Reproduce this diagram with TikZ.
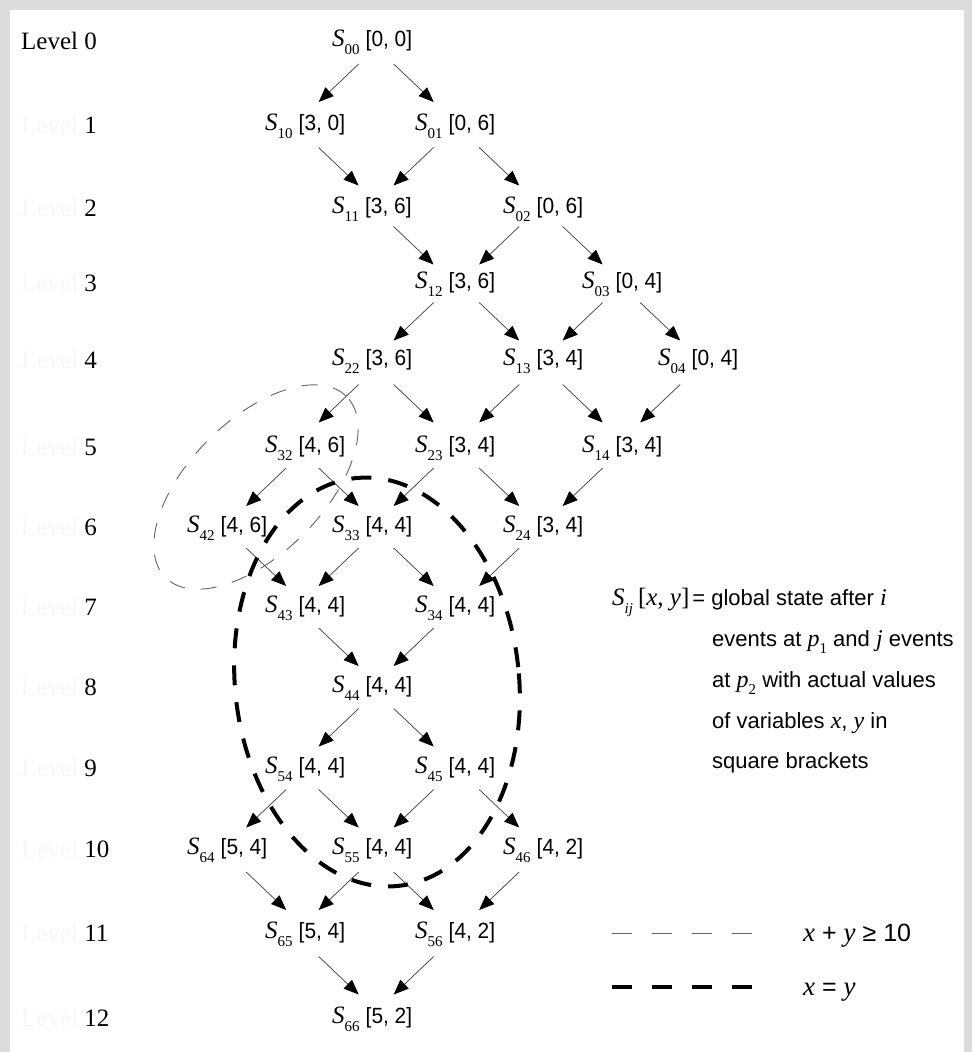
\documentclass[tikz,border=0pt]{standalone}
\usepackage{fontspec}
\setmainfont{Liberation Serif}
\newfontfamily\hsans{Liberation Sans}
\newfontfamily\hsansn[FakeStretch=0.95]{Liberation Sans}
\newfontfamily\tser{Liberation Serif}
\usetikzlibrary{arrows.meta,calc}
\definecolor{framegray}{RGB}{220,220,220}
\definecolor{faintlev}{RGB}{247,247,247}
\definecolor{edgegray}{RGB}{60,60,60}
\definecolor{ellgray}{RGB}{100,100,100}
\newcommand\Sfont{\tser\fontsize{25}{25}\selectfont}
\newcommand\subfont{\tser\fontsize{15}{15}\selectfont}
\newcommand\valfont{\hsansn\fontsize{22}{22}\selectfont}
\newcommand\ti[1]{{\tser\fontsize{24}{24}\selectfont\itshape #1}}
\newcommand\tib[1]{{\tser\fontsize{27}{27}\selectfont\itshape #1}}
\newcommand\stlab[2]{{\Sfont\itshape S}\raisebox{-8pt}{\subfont #1}\hspace{6pt}{\valfont[#2]}}
\newcommand\stnode[4]{\node[stbox] (s#1) at (#2,#3) {\stlab{#1}{#4}};}
\newcommand\levnode[3]{\node[levbox] (lev#1) at (21,#2+8.5) {#3};}
\begin{document}
\begin{tikzpicture}[x=1pt,y=-1pt,
  stbox/.style={inner sep=0pt, anchor=west, text height=15.5pt, text depth=4.5pt},
  levbox/.style={inner sep=0pt, anchor=base west, font=\tser\fontsize{25}{25}\selectfont},
  legtext/.style={inner sep=0pt, anchor=base west, font=\hsans\fontsize{22}{22}\selectfont},
  arr/.style={draw=edgegray, line width=0.7pt, -{Triangle[length=15pt,width=12pt,color=black]}},
  thinell/.style={draw=ellgray, line width=0.9pt, dash pattern=on 16pt off 16pt},
  thickell/.style={draw=black, line width=4pt, dash pattern=on 20pt off 17pt},
  thinleg/.style={draw=ellgray, line width=0.9pt, dash pattern=on 20pt off 20pt},
  thickleg/.style={draw=black, line width=4.5pt, dash pattern=on 20pt off 20pt}]
\useasboundingbox (0,0) rectangle (972,1052);
\fill[framegray] (0,0) rectangle (972,1052);
\fill[white] (10,10) rectangle (964,1052);

% level labels
\levnode{0}{41}{Level 0}
\levnode{1}{125}{\textcolor{faintlev}{Level} 1}
\levnode{2}{208}{\textcolor{faintlev}{Level} 2}
\levnode{3}{283}{\textcolor{faintlev}{Level} 3}
\levnode{4}{360}{\textcolor{faintlev}{Level} 4}
\levnode{5}{447}{\textcolor{faintlev}{Level} 5}
\levnode{6}{527}{\textcolor{faintlev}{Level} 6}
\levnode{7}{607}{\textcolor{faintlev}{Level} 7}
\levnode{8}{687}{\textcolor{faintlev}{Level} 8}
\levnode{9}{768}{\textcolor{faintlev}{Level} 9}
\levnode{10}{849}{\textcolor{faintlev}{Level} 10}
\levnode{11}{933}{\textcolor{faintlev}{Level} 11}
\levnode{12}{1018}{\textcolor{faintlev}{Level} 12}

% states
\stnode{00}{332}{41}{0, 0}
\stnode{10}{265}{125}{3, 0}
\stnode{01}{415}{125}{0, 6}
\stnode{11}{332}{208}{3, 6}
\stnode{02}{503}{208}{0, 6}
\stnode{12}{415}{283}{3, 6}
\stnode{03}{582}{283}{0, 4}
\stnode{22}{332}{360}{3, 6}
\stnode{13}{503}{360}{3, 4}
\stnode{04}{658}{360}{0, 4}
\stnode{32}{265}{447}{4, 6}
\stnode{23}{415}{447}{3, 4}
\stnode{14}{582}{447}{3, 4}
\stnode{42}{187}{527}{4, 6}
\stnode{33}{332}{527}{4, 4}
\stnode{24}{503}{527}{3, 4}
\stnode{43}{265}{607}{4, 4}
\stnode{34}{415}{607}{4, 4}
\stnode{44}{332}{687}{4, 4}
\stnode{54}{265}{768}{4, 4}
\stnode{45}{415}{768}{4, 4}
\stnode{64}{187}{849}{5, 4}
\stnode{55}{332}{849}{4, 4}
\stnode{46}{503}{849}{4, 2}
\stnode{65}{265}{933}{5, 4}
\stnode{56}{415}{933}{4, 2}
\stnode{66}{332}{1018}{5, 2}

% transitions (d = -1: down-left, 1: down-right)
\foreach \a/\b/\d in {00/10/-1,00/01/1,10/11/1,01/11/-1,01/02/1,11/12/1,02/12/-1,02/03/1,
  12/22/-1,12/13/1,03/13/-1,03/04/1,22/32/-1,22/23/1,13/23/-1,13/14/1,04/14/-1,
  32/42/-1,32/33/1,23/33/-1,23/24/1,14/24/-1,42/43/1,33/43/-1,33/34/1,24/34/-1,
  43/44/1,34/44/-1,44/54/-1,44/45/1,54/64/-1,54/55/1,45/55/-1,45/46/1,
  64/65/1,55/65/-1,55/56/1,46/56/-1,65/66/1,56/66/-1}
  \draw[arr] ($(s\a.center)!0.5!(s\b.center)+(\d*-20,-19)$) -- ($(s\a.center)!0.5!(s\b.center)+(\d*20,19)$);

% predicate regions
\draw[thinell, rotate around={45:(256,487)}] (256,487) ellipse [x radius=128pt, y radius=67pt];
\draw[thickell, rotate around={6:(377,682)}] (377,682) ellipse [x radius=142pt, y radius=205pt];

% legend
\node[legtext] (leg1) at (612,605) {{\Sfont\itshape S}\raisebox{-8pt}{\subfont\itshape ij}\hspace{5pt}{\Sfont[\textit{x}, \textit{y}]}\hspace{3pt}= global state after \ti{i}};
\node[legtext] (leg2) at (712,646) {events at \ti{p}\raisebox{-7pt}{\subfont 1} and \ti{j} events};
\node[legtext] (leg3) at (712,687) {at \ti{p}\raisebox{-7pt}{\subfont 2} with actual values};
\node[legtext] (leg4) at (712,728) {of variables \ti{x}, \ti{y} in};
\node[legtext] (leg5) at (712,768) {square brackets};

\coordinate (thinA) at (612,933);
\coordinate (thinB) at (752,933);
\coordinate (thickA) at (612,987);
\coordinate (thickB) at (752,987);
\draw[thinleg] (thinA) -- (thinB);
\draw[thickleg] (thickA) -- (thickB);
\node[legtext, font=\hsans\fontsize{25}{25}\selectfont] (legthin) at (803,941) {\tib{x} + \tib{y} ≥ 10};
\node[legtext, font=\hsans\fontsize{25}{25}\selectfont] (legthick) at (803,995) {\tib{x} = \tib{y}};
\end{tikzpicture}
\end{document}
